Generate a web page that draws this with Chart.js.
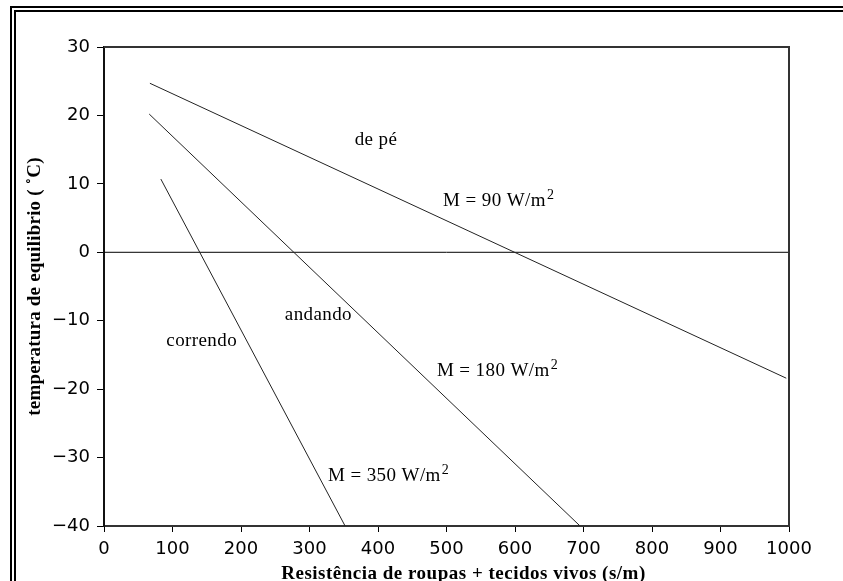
<!DOCTYPE html>
<html>
<head>
<meta charset="utf-8">
<script src="https://cdn.jsdelivr.net/npm/chart.js@4.4.0/dist/chart.umd.min.js"></script>
<style>
html, body { margin: 0; padding: 0; background: #fff; overflow: hidden; }
#moldura { position: absolute; left: 10px; top: 6px; width: 900px; height: 640px;
  border-left: 6px double #000; border-top: 6px double #000; }
#grafico { position: absolute; left: 0; top: 0; }
</style>
</head>
<body>
<div id="moldura"></div>
<canvas id="grafico" width="843" height="581"></canvas>
<script>
// dados
const dePeX = [67, 996];
const dePeY = [24.7, -18.4];
const andandoX = [66, 695];
const andandoY = [20.2, -40];
const correndoX = [83, 352];
const correndoY = [10.7, -40];
const zeroX = [0, 1000];
const zeroY = [0, 0];

// rotulos dentro do grafico (x, y em unidades dos eixos)
const rotulos = ['de pé', 'M = 90 W/m', 'andando', 'correndo', 'M = 180 W/m', 'M = 350 W/m'];
const rotulosX = [366, 495, 264, 91, 486, 327];
const rotulosY = [16.4, 7.5, -9.1, -13.0, -17.4, -32.7];
const rotulosSup = [false, true, false, false, true, true];

const tituloX = 'Resistência de roupas + tecidos vivos (s/m)';
const tituloY = 'temperatura de equilibrio ( ˚C)';

function pontos(xs, ys) {
    return xs.map((x, i) => ({ x: x, y: ys[i] }));
}

const linha = (xs, ys) => ({
    data: pontos(xs, ys),
    borderColor: '#222',
    borderWidth: 1,
    pointRadius: 0,
    fill: false
});

// moldura, rotulos e titulos
const extras = {
    id: 'extras',
    afterDraw(chart) {
        const ctx = chart.ctx;
        const a = chart.chartArea;
        const sx = chart.scales.x;
        const sy = chart.scales.y;
        ctx.save();
        ctx.strokeStyle = '#333';
        ctx.lineWidth = 2;
        ctx.beginPath();
        ctx.moveTo(a.left, a.top);
        ctx.lineTo(a.right, a.top);
        ctx.lineTo(a.right, a.bottom);
        ctx.stroke();

        ctx.fillStyle = '#000';
        ctx.textBaseline = 'middle';
        ctx.textAlign = 'left';
        rotulos.forEach((txt, i) => {
            const px = sx.getPixelForValue(rotulosX[i]);
            const py = sy.getPixelForValue(rotulosY[i]);
            ctx.letterSpacing = '0.4px';
            ctx.font = '19px "Liberation Serif", serif';
            ctx.fillText(txt, px, py);
            if (rotulosSup[i]) {
                const w = ctx.measureText(txt).width;
                ctx.font = '14px "Liberation Serif", serif';
                ctx.fillText('2', px + w + 1, py - 6);
            }
        });

        ctx.font = 'bold 19px "Liberation Serif", serif';
        ctx.letterSpacing = '0.5px';
        ctx.textAlign = 'center';
        ctx.textBaseline = 'alphabetic';
        ctx.fillText(tituloX, (a.left + a.right) / 2 + 17, 579);

        ctx.letterSpacing = '0.2px';
        ctx.translate(35, (a.top + a.bottom) / 2);
        ctx.rotate(-Math.PI / 2);
        ctx.textBaseline = 'middle';
        ctx.fillText(tituloY, 0, 0);
        ctx.restore();
    }
};

new Chart(document.getElementById('grafico'), {
    type: 'line',
    data: {
        datasets: [
            linha(dePeX, dePeY),
            linha(andandoX, andandoY),
            linha(correndoX, correndoY),
            { data: pontos(zeroX, zeroY), borderColor: '#000', borderWidth: 1, pointRadius: 0, fill: false }
        ]
    },
    options: {
        responsive: false,
        animation: false,
        devicePixelRatio: 1,
        layout: { padding: { top: 47, right: 54, left: 0, bottom: 0 } },
        plugins: {
            legend: { display: false },
            tooltip: { enabled: false }
        },
        scales: {
            x: {
                type: 'linear',
                min: 0,
                max: 1000,
                afterFit: s => { s.height = 55; },
                border: { display: true, color: '#333', width: 2 },
                grid: { drawOnChartArea: false, drawTicks: true, tickLength: 6, color: '#000' },
                ticks: {
                    stepSize: 100,
                    color: '#000',
                    padding: 7,
                    maxRotation: 0,
                    font: { family: '"DejaVu Sans", sans-serif', size: 18 },
                    callback: v => '' + v
                }
            },
            y: {
                min: -40,
                max: 30,
                afterFit: s => { s.width = 104; },
                border: { display: true, color: '#111', width: 2 },
                grid: { drawOnChartArea: false, drawTicks: true, tickLength: 7, color: '#000' },
                ticks: {
                    stepSize: 10,
                    color: '#000',
                    padding: 7,
                    font: { family: '"DejaVu Sans", sans-serif', size: 18 },
                    callback: v => (v < 0 ? '\u2212' + Math.abs(v) : '' + v)
                }
            }
        }
    },
    plugins: [extras]
});
</script>
</body>
</html>
